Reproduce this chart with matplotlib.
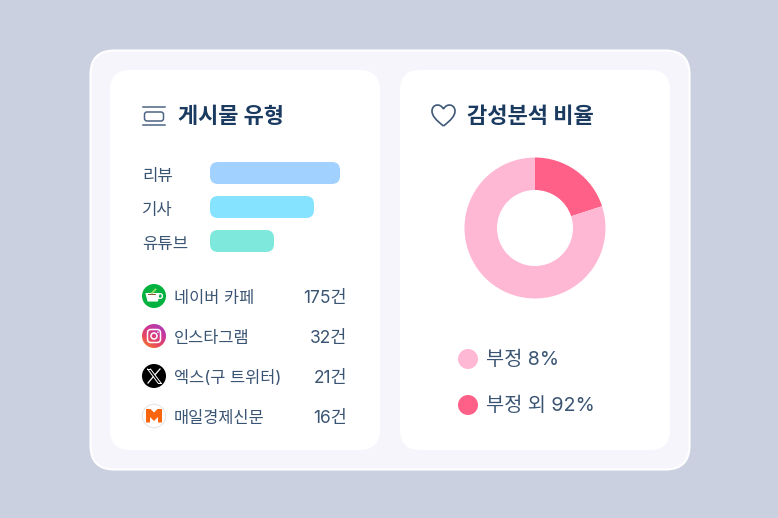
import numpy as np
from matplotlib import pyplot as plt
from matplotlib.patches import FancyBboxPatch, Circle, Polygon, Rectangle
from matplotlib.path import Path
from matplotlib.patches import PathPatch
from matplotlib.colors import LinearSegmentedColormap

plt.rcParams['font.family'] = ['Inter', 'Noto Sans CJK KR', 'DejaVu Sans']

# data
post_types = ['리뷰', '기사', '유튜브']
post_values = [130, 104, 64]
post_colors = ['#a1d2ff', '#86e3ff', '#7ee8dc']

channels = ['네이버 카페', '인스타그램', '엑스(구 트위터)', '매일경제신문']
channel_counts = ['175건', '32건', '21건', '16건']

pie_values = [20, 80]
pie_colors = ['#ff6088', '#ffb8d4']
legend_labels = ['부정 8%', '부정 외 92%']
legend_colors = ['#ffb8d4', '#ff6088']

NAVY = '#1a3a60'
TEXT = '#3a5473'

W, H = 778, 518
fig = plt.figure(figsize=(W / 100, H / 100), dpi=100, facecolor='#cbd0e0')

# whole figure axes in pixels, y going down
ax = fig.add_axes([0, 0, 1, 1])
ax.set_xlim(0, W)
ax.set_ylim(H, 0)
ax.axis('off')


def rounded(x, y, w, h, r, **kw):
    p = FancyBboxPatch((x + r, y + r), w - 2 * r, h - 2 * r,
                       boxstyle=f'round,pad={r},rounding_size={r}', **kw)
    ax.add_patch(p)
    return p


rounded(90.5, 50.5, 599, 419, 24, fc='#f5f5fb', ec='white', lw=1.5)
rounded(110, 70, 270, 380, 20, fc='white', ec='none')
rounded(400, 70, 270, 380, 20, fc='white', ec='none')

# titles
ax.text(178, 116.5, '게시물 유형', fontsize=15.8, fontweight='bold', color=NAVY, va='center')
ax.text(467, 116.5, '감성분석 비율', fontsize=15.9, fontweight='bold', color=NAVY, va='center')

# title icons
ax.plot([143, 165], [107, 107], color='#4d6584', lw=1.1)
ax.plot([143, 165], [125, 125], color='#4d6584', lw=1.1)
rounded(144.5, 112, 19, 9, 2.5, fc='none', ec='#4d6584', lw=1.1)

heart = Path([(443.5, 126), (436, 120), (432, 116), (432, 111), (432, 104.5), (440, 102.5), (443.5, 109),
              (447, 102.5), (455, 104.5), (455, 111), (455, 116), (451, 120), (443.5, 126)],
             [Path.MOVETO] + [Path.CURVE4] * 12)
ax.add_patch(PathPatch(heart, fc='none', ec='#3f5877', lw=1.2))

# bars
bar_tops = [162, 196, 230]
for name, val, col, top in zip(post_types, post_values, post_colors, bar_tops):
    rounded(210, top, val, 22, 8, fc=col, ec='none')
    ax.text(142, top + 14, name, fontsize=12, color=TEXT, va='center')

# channel rows
row_y = [298, 338, 378, 418]
for name, cnt, y in zip(channels, channel_counts, row_y):
    ax.text(174, y, name, fontsize=11.8, color=TEXT, va='center')
    ax.text(347, y, cnt, fontsize=12.5, color=TEXT, va='center', ha='right')

# naver icon
ax.add_patch(Circle((154, 296), 12, fc='#03b13f', ec='none'))
ax.add_patch(Polygon([(146, 293.5), (159, 293.5), (157.5, 301), (148, 301)], fc='white', ec='white', lw=0.8, joinstyle='round'))
ax.add_patch(Circle((160, 296), 2.4, fc='none', ec='white', lw=1))
ax.add_patch(Rectangle((148.5, 293.8), 8, 1.6, fc='#8a5a3a', ec='none'))
ax.plot([152, 155.5], [293, 289.5], color='#8fdc6a', lw=1.4)

# instagram icon
grad = LinearSegmentedColormap.from_list('ig', ['#f58a1f', '#e8475e', '#c9379d', '#a040b8'])
im = ax.imshow(np.linspace(1, 0, 64).reshape(-1, 1) * 0.6 + np.linspace(0, 0.4, 64).reshape(1, -1),
               extent=(142, 166, 348, 324), cmap=grad, aspect='auto', zorder=2)
im.set_clip_path(Circle((154, 336), 12, transform=ax.transData))
ax.set_xlim(0, W)
ax.set_ylim(H, 0)
rounded(147.5, 329.5, 13, 13, 3.5, fc='none', ec='white', lw=1.1, zorder=3)
ax.add_patch(Circle((154, 336), 3, fc='none', ec='white', lw=1.1, zorder=3))
ax.add_patch(Circle((158, 332.3), 0.8, fc='white', ec='none', zorder=3))

# x icon
ax.add_patch(Circle((154, 376), 12, fc='black', ec='none'))
ax.plot([147.5, 158], [369, 383], color='white', lw=0.7)
ax.plot([150.5, 161], [369, 383], color='white', lw=0.7)
ax.plot([147.5, 150.5], [369, 369], color='white', lw=0.7)
ax.plot([158, 161], [383, 383], color='white', lw=0.7)
ax.plot([160, 155.2], [369, 374.5], color='white', lw=0.9)
ax.plot([153, 148], [377, 383], color='white', lw=0.9)

# mk icon
ax.add_patch(Circle((154, 416), 11.7, fc='white', ec='#e6e6ea', lw=0.8))
ax.add_patch(Polygon([(146, 409), (150.5, 409), (154, 412.5), (157.5, 409), (162, 409), (162, 422.5),
                      (158, 422.5), (158, 417), (154, 421), (150, 417), (150, 422.5), (146, 422.5)],
                     fc='#f8650c', ec='none'))

# donut
cx, cy, r = 535, 228, 70.5
pie_ax = fig.add_axes([(cx - r) / W, 1 - (cy + r) / H, 2 * r / W, 2 * r / H])
pie_ax.pie(pie_values, colors=pie_colors, startangle=90, counterclock=False, radius=1,
           wedgeprops=dict(width=32.5 / 70.5, linewidth=0))
pie_ax.set_xlim(-1, 1)
pie_ax.set_ylim(-1, 1)

# legend
for lab, col, y in zip(legend_labels, legend_colors, [359, 405]):
    ax.add_patch(Circle((468, y), 10, fc=col, ec='none'))
    ax.text(486, y + 1, lab, fontsize=14.2, color=TEXT, va='center')

fig.savefig('out.png', dpi=100, facecolor=fig.get_facecolor())
